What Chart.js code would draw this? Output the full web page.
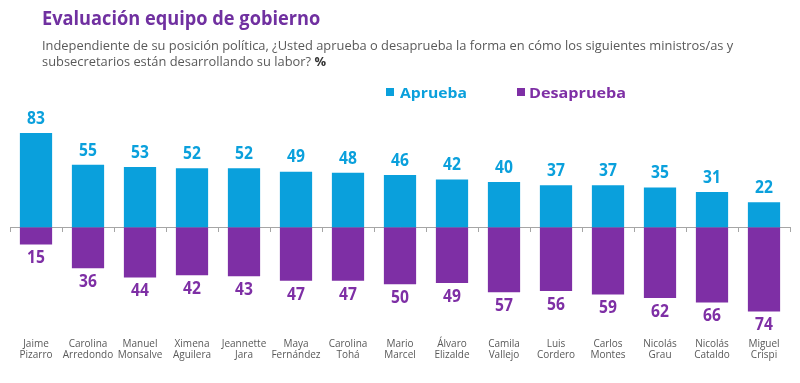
<!DOCTYPE html>
<html>
<head>
<meta charset="utf-8">
<script src="https://cdn.jsdelivr.net/npm/chart.js@4.4.1/dist/chart.umd.min.js"></script>
<style>
  html, body { margin: 0; padding: 0; background: #ffffff; }
  #wrap { position: relative; width: 800px; height: 383px; overflow: hidden; background: #fff; }
  #c { position: absolute; left: 0; top: 0; }
  .fit { position: absolute; white-space: nowrap; transform-origin: 0 0; display: inline-block; }
  #title { left: 42px; top: 5px; font-family: "Open Sans", sans-serif; font-weight: 700; font-size: 19px; color: #7030A0; line-height: 26px; }
  .sub { left: 42px; font-family: "Open Sans", sans-serif; font-size: 13px; color: #595959; line-height: 16px; }
  #sub1 { top: 37px; }
  #sub2 { top: 53px; }
  .leg { position: absolute; top: 83px; font-family: "Open Sans", sans-serif; font-weight: 700; font-size: 15px; line-height: 18px; }
  .sw { position: absolute; width: 8px; height: 8px; top: 88px; }
</style>
</head>
<body>
<div id="wrap">
  <canvas id="c" width="800" height="383"></canvas>
  <div id="title" class="fit">Evaluación equipo de gobierno</div>
  <div id="sub1" class="fit sub">Independiente de su posición política, ¿Usted aprueba o desaprueba la forma en cómo los siguientes ministros/as y</div>
  <div id="sub2" class="fit sub">subsecretarios están desarrollando su labor? <b style="color:#333">%</b></div>
  <div class="sw" style="left:386px;background:#0AA0DC"></div>
  <div id="leg1" class="leg fit" style="left:400px;color:#0AA0DC">Aprueba</div>
  <div class="sw" style="left:517px;background:#7E2FA5"></div>
  <div id="leg2" class="leg fit" style="left:529px;color:#7E2FA5">Desaprueba</div>
</div>
<script>
const categories = [
  ["Jaime", "Pizarro"], ["Carolina", "Arredondo"], ["Manuel", "Monsalve"], ["Ximena", "Aguilera"],
  ["Jeannette", "Jara"], ["Maya", "Fernández"], ["Carolina", "Tohá"], ["Mario", "Marcel"],
  ["Álvaro", "Elizalde"], ["Camila", "Vallejo"], ["Luis", "Cordero"], ["Carlos", "Montes"],
  ["Nicolás", "Grau"], ["Nicolás", "Cataldo"], ["Miguel", "Crispi"]
];
const aprueba = [83, 55, 53, 52, 52, 49, 48, 46, 42, 40, 37, 37, 35, 31, 22];
const desaprueba = [15, 36, 44, 42, 43, 47, 47, 50, 49, 57, 56, 59, 62, 66, 74];
const seriesNames = ["Aprueba", "Desaprueba"];

const CYAN = "#0AA0DC";
const PURPLE = "#7E2FA5";

function fit(id, w) {
  const el = document.getElementById(id);
  const cur = el.offsetWidth;
  if (cur > 0) el.style.transform = "scaleX(" + (w / cur) + ")";
}
fit("title", 278);
fit("sub1", 691);
const s1 = document.getElementById("sub1");
document.getElementById("sub2").style.transform = s1.style.transform;
fit("leg1", 67);
fit("leg2", 97);

const valueLabels = {
  id: "valueLabels",
  afterDatasetsDraw(chart) {
    const ctx = chart.ctx;
    ctx.save();
    ctx.font = "bold 17px 'Open Sans', sans-serif";
    ctx.textAlign = "center";
    ctx.textBaseline = "middle";
    chart.data.datasets.forEach((ds, di) => {
      const meta = chart.getDatasetMeta(di);
      meta.data.forEach((el, i) => {
        const v = Math.abs(ds.data[i]);
        const y = di === 0 ? el.y - 14 : el.y + 14;
        ctx.fillStyle = ds.backgroundColor;
        ctx.save();
        ctx.translate(el.x, y);
        ctx.scale(0.92, 1);
        ctx.fillText(String(v), 0, 0);
        ctx.restore();
      });
    });
    ctx.restore();
  }
};

new Chart(document.getElementById("c"), {
  type: "bar",
  data: {
    labels: categories,
    datasets: [
      { label: seriesNames[0], data: aprueba, backgroundColor: CYAN, xAxisID: "x", yAxisID: "y" },
      { label: seriesNames[1], data: desaprueba.map(v => -v), backgroundColor: PURPLE, xAxisID: "x", yAxisID: "y" }
    ]
  },
  options: {
    responsive: false,
    animation: false,
    devicePixelRatio: 1,
    layout: { padding: { top: 100, left: 10, right: 10, bottom: 19 } },
    datasets: { bar: { categoryPercentage: 1, barPercentage: 0.62 } },
    plugins: {
      legend: { display: false },
      tooltip: { enabled: false },
      title: { display: false }
    },
    scales: {
      x: {
        stacked: true,
        offset: true,
        grid: { display: false },
        border: { display: false },
        ticks: {
          color: "#595959",
          font: { family: "'Open Sans', sans-serif", size: 10, lineHeight: 1.15 },
          padding: 3,
          maxRotation: 0,
          autoSkip: false
        }
      },
      x0: {
        type: "category",
        labels: categories,
        position: { y: 0 },
        offset: true,
        grid: { display: true, offset: true, drawOnChartArea: false, drawTicks: true, tickLength: 4, color: "#a6a6a6" },
        border: { display: true, color: "#a6a6a6", width: 1 },
        ticks: { display: false }
      },
      y: {
        stacked: true,
        display: false,
        min: -87.6,
        max: 112
      }
    }
  },
  plugins: [valueLabels]
});
</script>
</body>
</html>
